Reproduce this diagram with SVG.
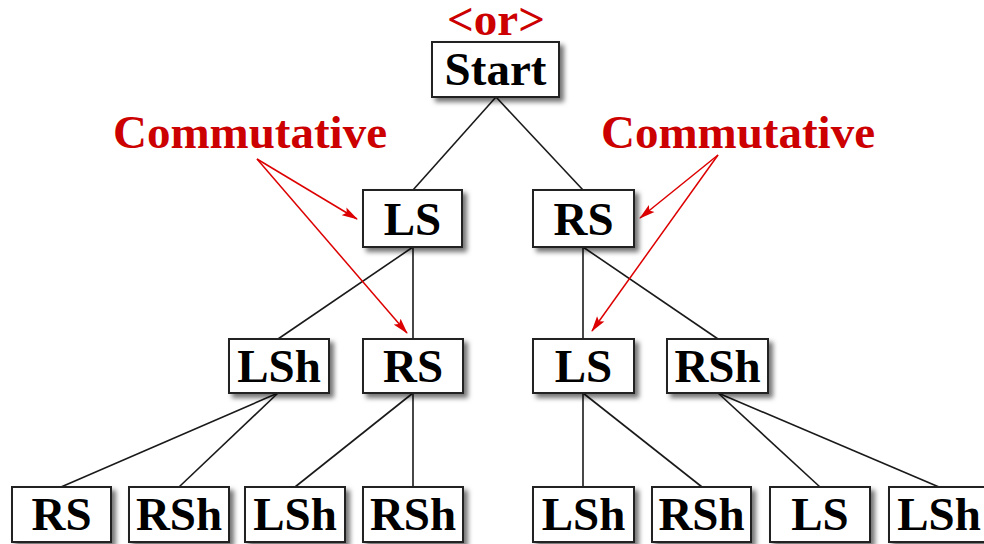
<svg xmlns="http://www.w3.org/2000/svg" width="984" height="544" viewBox="0 0 984 544">
<defs>
<style>
.box{fill:#fff;stroke:#222;stroke-width:2}
.lbl{font-family:"Liberation Serif","Times New Roman",serif;font-weight:bold;font-size:47px;fill:#000;text-anchor:middle}
.red{font-family:"Liberation Serif","Times New Roman",serif;font-weight:bold;font-size:47px;fill:#cc0000;text-anchor:middle}
.edge{stroke:#1a1a1a;stroke-width:1.6;fill:none}
.arr{stroke:#dd0000;stroke-width:1.5;fill:none;marker-end:url(#ah)}
</style>
<filter id="sh" x="-20%" y="-20%" width="140%" height="150%">
<feDropShadow dx="4" dy="4" stdDeviation="2.5" flood-color="#000" flood-opacity="0.55"/>
</filter>
<marker id="ah" markerWidth="16" markerHeight="10" refX="15" refY="5" orient="auto" markerUnits="userSpaceOnUse">
<path d="M0,0.5 L16,5 L0,9.5 L3,5 Z" fill="#dd0000"/>
</marker>
</defs>
<rect width="984" height="544" fill="#fff"/>
<g id="connectors">
<line class="edge" x1="496" y1="97" x2="413" y2="190"/>
<line class="edge" x1="496" y1="97" x2="583" y2="190"/>
<line class="edge" x1="413" y1="247" x2="278" y2="339"/>
<line class="edge" x1="413" y1="247" x2="413" y2="339"/>
<line class="edge" x1="583" y1="247" x2="583" y2="339"/>
<line class="edge" x1="583" y1="247" x2="718" y2="339"/>
<line class="edge" x1="278" y1="393" x2="61" y2="487"/>
<line class="edge" x1="278" y1="393" x2="179" y2="487"/>
<line class="edge" x1="413" y1="393" x2="295" y2="487"/>
<line class="edge" x1="413" y1="393" x2="413" y2="487"/>
<line class="edge" x1="583" y1="393" x2="583" y2="487"/>
<line class="edge" x1="583" y1="393" x2="702" y2="487"/>
<line class="edge" x1="718" y1="393" x2="820" y2="487"/>
<line class="edge" x1="718" y1="393" x2="939" y2="487"/>
<line class="arr" x1="257" y1="159" x2="357" y2="219"/>
<line class="arr" x1="257" y1="159" x2="407" y2="333"/>
<line class="arr" x1="718" y1="155" x2="640" y2="218"/>
<line class="arr" x1="718" y1="155" x2="592" y2="331"/>
</g>
<g id="labels">
<text class="red" x="496" y="35">&lt;or&gt;</text>
<text class="red" x="250" y="148">Commutative</text>
<text class="red" x="738" y="148">Commutative</text>
</g>
<g id="n-start"><rect class="box" filter="url(#sh)" x="432" y="42" width="127" height="55"/><text class="lbl" x="495.5" y="85">Start</text></g>
<g id="n-ls1"><rect class="box" filter="url(#sh)" x="363" y="190" width="99" height="57"/><text class="lbl" x="412.5" y="235">LS</text></g>
<g id="n-rs1"><rect class="box" filter="url(#sh)" x="533" y="190" width="101" height="57"/><text class="lbl" x="583.5" y="235">RS</text></g>
<g id="n-lsh2"><rect class="box" filter="url(#sh)" x="229" y="339" width="100" height="54"/><text class="lbl" x="279" y="382">LSh</text></g>
<g id="n-rs2"><rect class="box" filter="url(#sh)" x="363" y="339" width="100" height="54"/><text class="lbl" x="413" y="382">RS</text></g>
<g id="n-ls2"><rect class="box" filter="url(#sh)" x="533" y="339" width="101" height="54"/><text class="lbl" x="583.5" y="382">LS</text></g>
<g id="n-rsh2"><rect class="box" filter="url(#sh)" x="667" y="339" width="101" height="54"/><text class="lbl" x="717.5" y="382">RSh</text></g>
<g id="n-rs3a"><rect class="box" filter="url(#sh)" x="12" y="487" width="99" height="55"/><text class="lbl" x="61.5" y="530">RS</text></g>
<g id="n-rsh3a"><rect class="box" filter="url(#sh)" x="129" y="487" width="100" height="55"/><text class="lbl" x="179" y="530">RSh</text></g>
<g id="n-lsh3a"><rect class="box" filter="url(#sh)" x="245" y="487" width="100" height="55"/><text class="lbl" x="295" y="530">LSh</text></g>
<g id="n-rsh3b"><rect class="box" filter="url(#sh)" x="363" y="487" width="100" height="55"/><text class="lbl" x="413" y="530">RSh</text></g>
<g id="n-lsh3b"><rect class="box" filter="url(#sh)" x="533" y="487" width="101" height="55"/><text class="lbl" x="583.5" y="530">LSh</text></g>
<g id="n-rsh3c"><rect class="box" filter="url(#sh)" x="652" y="487" width="99" height="55"/><text class="lbl" x="701.5" y="530">RSh</text></g>
<g id="n-ls3"><rect class="box" filter="url(#sh)" x="770" y="487" width="100" height="55"/><text class="lbl" x="820" y="530">LS</text></g>
<g id="n-lsh3c"><rect class="box" filter="url(#sh)" x="889" y="487" width="100" height="55"/><text class="lbl" x="939" y="530">LSh</text></g>
</svg>
